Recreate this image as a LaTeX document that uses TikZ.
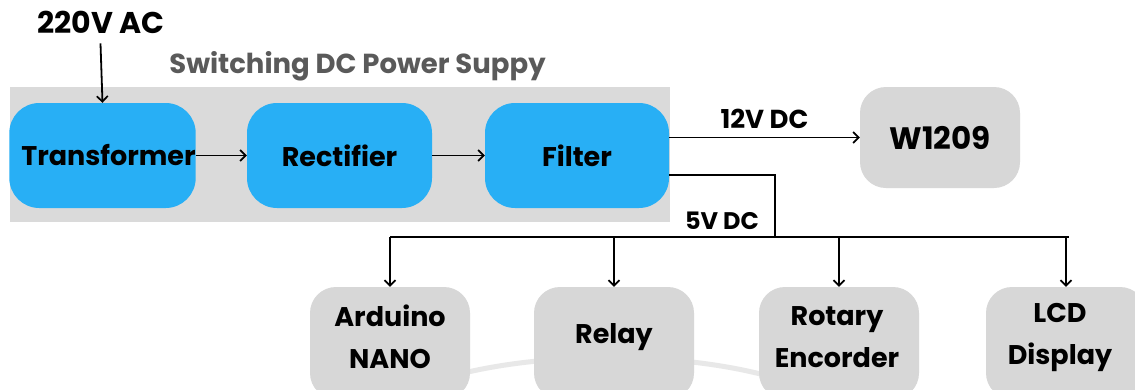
\documentclass[tikz,border=0pt]{standalone}
\usepackage{fontspec}
\setmainfont{Poppins}
\usetikzlibrary{arrows.meta}
\definecolor{blu}{RGB}{40,175,245}
\definecolor{bgg}{RGB}{218,218,218}
\definecolor{boxg}{RGB}{215,215,215}
\definecolor{ttl}{RGB}{90,90,90}
\tikzset{
  blubox/.style={fill=blu,rounded corners=30pt,minimum width=185pt,minimum height=105pt,inner sep=0pt,font=\fontsize{27}{32}\selectfont\bfseries},
  greybox/.style={fill=boxg,rounded corners=26pt,minimum width=160pt,inner sep=0pt},
  lbl/.style={font=\fontsize{27}{42}\selectfont\bfseries,align=center,inner sep=0pt},
  small/.style={font=\fontsize{24}{28}\selectfont\bfseries,inner sep=0pt},
  arr/.style={line width=1.8pt,-{Straight Barb[length=5.5pt,width=11pt,line width=1.7pt]}},
  ln/.style={line width=1.8pt}
}
\begin{document}
\begin{tikzpicture}[x=1pt,y=-1pt]
\useasboundingbox (0,0) rectangle (1135,389);
\fill[white] (0,0) rectangle (1135,389);
% watermark arc
\draw[gray!18,line width=5pt] (400,395) .. controls (500,345) and (720,345) .. (820,395);
% background panel
\node[fill=bgg,minimum width=660pt,minimum height=135pt,inner sep=0pt] (panel) at (340,154.5) {};
\node[font=\fontsize{27.5}{32}\selectfont\bfseries,text=ttl,inner sep=0pt] (title) at (357.5,66) {Switching DC Power Suppy};
\node[small,font=\fontsize{30}{34}\selectfont\bfseries] (ac) at (101,22) {220V AC};
\node[blubox] (trans) at (102.5,155.5) {\hspace*{12pt}Transformer};
\node[blubox] (rect) at (339.5,155.5) {Rectifier};
\node[blubox,minimum width=184pt] (filt) at (577,155.5) {Filter};
\node[greybox,minimum height=101pt,font=\fontsize{31}{36}\selectfont\bfseries] (w) at (940,137.5) {W1209};
% bottom boxes
\node[greybox,minimum height=112pt] (ard) at (390,343) {};
\node[greybox,minimum height=112pt] (rel) at (614,343) {};
\node[greybox,minimum height=112pt] (rot) at (839,343) {};
\node[greybox,minimum height=112pt] (lcd) at (1066,343) {};
\node[lbl] (tard) at (390,337) {Arduino\\NANO};
\node[lbl] (trel) at (614,337) {Relay};
\node[lbl] (trot) at (837,337) {Rotary\\Encorder};
\node[lbl] (tlcd) at (1060,337) {LCD\\Display};
% connectors
\draw[arr] ([xshift=-0.5pt,yshift=-10pt]ac.south) -- (trans.north);
\draw[arr] (trans.east) -- (rect.west);
\draw[arr] (rect.east) -- (filt.west);
\draw[arr] (filt.east |- w.west) -- node[small,font=\fontsize{26}{30}\selectfont\bfseries,above=8pt] (v12) {12V DC} (w.west);
\coordinate (j) at (775,237);
\draw[ln] ([yshift=-19.5pt]filt.east) -| (j);
\node[small] (v5) at (722,221) {5V DC};
\draw[ln] (ard.north |- j) -- ([xshift=3pt]lcd.north |- j);
\draw[arr] (ard.north |- j) -- (ard.north);
\draw[arr] (rel.north |- j) -- (rel.north);
\draw[arr] (rot.north |- j) -- (rot.north);
\draw[arr] (lcd.north |- j) -- (lcd.north);
\end{tikzpicture}
\end{document}
